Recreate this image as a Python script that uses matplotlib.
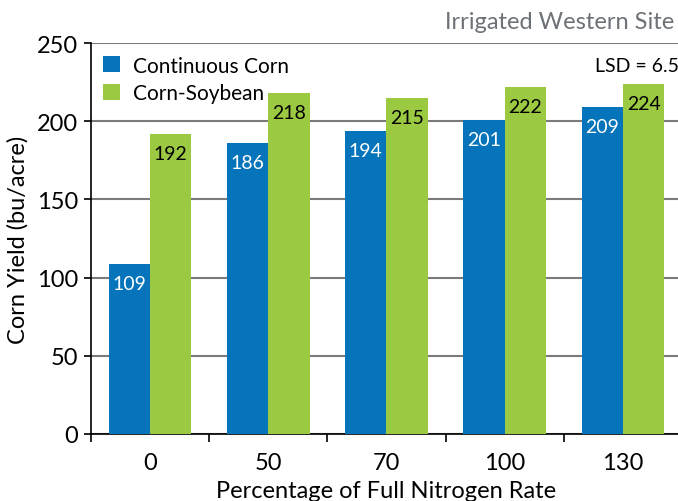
import numpy as np
import matplotlib.pyplot as plt

rates = ['0', '50', '70', '100', '130']
continuous_corn = [109, 186, 194, 201, 209]
corn_soybean = [192, 218, 215, 222, 224]

blue = '#0574bb'
green = '#9bc942'

plt.rcParams['font.family'] = ['Lato', 'DejaVu Sans']

fig = plt.figure(figsize=(6.78, 5.02), dpi=100)
ax = fig.add_axes([0.134, 0.1335, 0.872, 0.7785])

x = np.arange(len(rates))
w = 0.35
b1 = ax.bar(x - w / 2, continuous_corn, w, color=blue, label='Continuous Corn', zorder=3)
b2 = ax.bar(x + w / 2, corn_soybean, w, color=green, label='Corn-Soybean', zorder=3)

for bars, col in ((b1, 'white'), (b2, 'black')):
    for r in bars:
        ax.annotate(str(int(r.get_height())), (r.get_x() + r.get_width() / 2, r.get_height()),
                    xytext=(0, -8), textcoords='offset points', ha='center', va='top',
                    fontsize=14, color=col, zorder=4)

ax.set_ylim(0, 250)
ax.set_yticks(range(0, 251, 50))
ax.set_xlim(-0.5, 4.46)
ax.set_xticks(x)
ax.set_xticklabels(rates)
ax.set_xticks(np.arange(-0.5, 4.6, 1), minor=True)
ax.tick_params(axis='x', which='major', length=0, pad=13, labelsize=17)
ax.tick_params(axis='x', which='minor', length=6, width=1.2, direction='out')
ax.tick_params(axis='y', length=5, width=1.2, labelsize=17, pad=4)
ax.yaxis.grid(True, color='#7a7a7a', linewidth=1.5, zorder=0)
for s in ('top', 'right'):
    ax.spines[s].set_visible(False)
ax.spines['left'].set_linewidth(1.2)
ax.spines['bottom'].set_linewidth(1.2)

ax.set_ylabel('Corn Yield (bu/acre)', fontsize=17, labelpad=6)
ax.set_xlabel('Percentage of Full Nitrogen Rate', fontsize=17, labelpad=5)

ax.legend(loc='upper left', frameon=False, fontsize=15, handlelength=0.8, handleheight=0.8,
          borderaxespad=0.2, labelspacing=0.35, handletextpad=0.6)
ax.text(0.995, 0.965, 'LSD = 6.5', transform=ax.transAxes, ha='right', va='top', fontsize=14)
fig.text(0.995, 0.955, 'Irrigated Western Site', ha='right', va='center', fontsize=17, color='#6d7278')

fig.savefig('out.png', dpi=100)
